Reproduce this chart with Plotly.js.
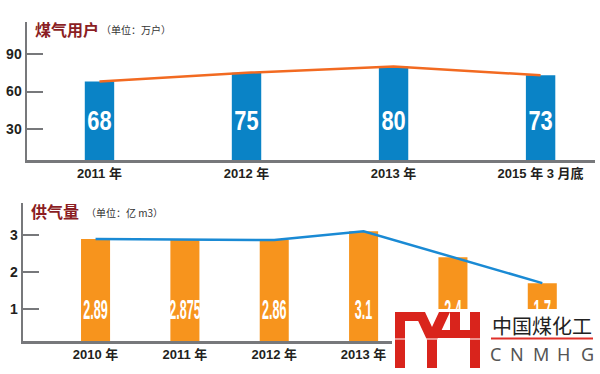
<!DOCTYPE html>
<html>
<head>
<meta charset="utf-8">
<script src="https://cdn.plot.ly/plotly-3.0.1.min.js"></script>
<style>html,body{margin:0;padding:0;background:#fff;}#chart{width:600px;height:374px;}</style>
</head>
<body>
<div id="chart"></div>
<script>
// ---- data ----
const userCats = ['2011 年', '2012 年', '2013 年', '2015 年 3 月底'];
const userVals = [68, 75, 80, 73];
const userLabels = ['68', '75', '80', '73'];
const userTicks = [30, 60, 90];

const gasCats = ['2010 年', '2011 年', '2012 年', '2013 年', '2014 年', '2015 年 1-3 月'];
const gasVals = [2.89, 2.875, 2.86, 3.1, 2.4, 1.7];
const gasLabels = ['2.89', '2.875', '2.86', '3.1', '2.4', '1.7'];
const gasTicks = [1, 2, 3];
const gasShownCats = gasCats.slice(0, 4);

const logoLetters = ['C', 'N', 'M', 'H', 'G'];

// ---- helpers: pixel -> paper ----
const W = 600, H = 374;
const px = x => x / W;
const py = y => 1 - y / H;

const axisGray = '#77787b';
const dark = '#231f20';
const labelFont = 'Liberation Sans, Arial, sans-serif';
const sans = 'Liberation Sans, Noto Sans CJK SC, sans-serif';
const cjk = 'Noto Sans CJK SC, sans-serif';

const traces = [
  {type: 'bar', x: userCats, y: userVals, xaxis: 'x', yaxis: 'y',
   marker: {color: '#0a83c6'}, width: 0.2, hoverinfo: 'skip'},
  {type: 'scatter', mode: 'lines', x: userCats, y: userVals, xaxis: 'x', yaxis: 'y',
   line: {color: '#f26a21', width: 2.5}, hoverinfo: 'skip'},
  {type: 'scatter', mode: 'text', x: userCats, y: userCats.map(() => 34.8), text: userLabels,
   xaxis: 'x', yaxis: 'y', textposition: 'middle center',
   textfont: {family: labelFont, size: 28, color: '#ffffff', weight: 'bold'}, hoverinfo: 'skip'},

  {type: 'bar', x: gasCats, y: gasVals, xaxis: 'x2', yaxis: 'y2',
   marker: {color: '#f7941d'}, width: 0.325, hoverinfo: 'skip'},
  {type: 'scatter', mode: 'lines', x: gasCats, y: gasVals, xaxis: 'x2', yaxis: 'y2',
   line: {color: '#1a8ad4', width: 2.5}, hoverinfo: 'skip'},
  {type: 'scatter', mode: 'text', x: gasCats, y: gasCats.map(() => 0.93), text: gasLabels,
   xaxis: 'x2', yaxis: 'y2', textposition: 'middle center',
   textfont: {family: labelFont, size: 28, color: '#ffffff', weight: 'bold'}, hoverinfo: 'skip'}
];

const yAxisCommon = {
  showgrid: false, zeroline: false, showline: true, linecolor: axisGray, linewidth: 2.5,
  ticks: 'inside', ticklen: 16, tickwidth: 2, tickcolor: axisGray,
  tickfont: {family: sans, size: 14, color: dark, weight: 'bold'}
};
const xAxisCommon = {
  type: 'category', showgrid: false, zeroline: false, showline: true, linecolor: axisGray, linewidth: 2.5,
  ticks: '', tickfont: {family: sans, size: 13, color: dark, weight: 'bold'}
};

const red = '#d9241c';
const shapes = [
  // white cover for watermark logo
  {type: 'rect', xref: 'paper', yref: 'paper', x0: px(392), x1: px(600), y0: py(374), y1: py(309),
   fillcolor: '#ffffff', line: {width: 0}, layer: 'above'},
  // red MH logo
  {type: 'rect', xref: 'paper', yref: 'paper', x0: px(395), x1: px(405), y0: py(368), y1: py(312),
   fillcolor: red, line: {width: 0}, layer: 'above'},
  {type: 'rect', xref: 'paper', yref: 'paper', x0: px(395), x1: px(424), y0: py(321), y1: py(312),
   fillcolor: red, line: {width: 0}, layer: 'above'},
  {type: 'path', xref: 'paper', yref: 'paper', layer: 'above', fillcolor: red, line: {width: 0},
   path: 'M' + px(414) + ',' + py(312) + ' L' + px(425) + ',' + py(312) + ' L' + px(432) + ',' + py(327) +
         ' L' + px(439) + ',' + py(312) + ' L' + px(450) + ',' + py(312) + ' L' + px(437) + ',' + py(340) +
         ' L' + px(427) + ',' + py(340) + ' Z'},
  {type: 'rect', xref: 'paper', yref: 'paper', x0: px(427), x1: px(437), y0: py(368), y1: py(336),
   fillcolor: red, line: {width: 0}, layer: 'above'},
  {type: 'rect', xref: 'paper', yref: 'paper', x0: px(450), x1: px(460), y0: py(338), y1: py(312),
   fillcolor: red, line: {width: 0}, layer: 'above'},
  {type: 'rect', xref: 'paper', yref: 'paper', x0: px(437), x1: px(480), y0: py(338), y1: py(330),
   fillcolor: red, line: {width: 0}, layer: 'above'},
  {type: 'rect', xref: 'paper', yref: 'paper', x0: px(470), x1: px(480), y0: py(368), y1: py(312),
   fillcolor: red, line: {width: 0}, layer: 'above'},
  {type: 'line', xref: 'paper', yref: 'paper', x0: px(394), x1: px(481), y0: py(339), y1: py(339),
   line: {color: '#ffffff', width: 1}, layer: 'above'},
  // red rule under Chinese name
  {type: 'line', xref: 'paper', yref: 'paper', x0: px(491), x1: px(593), y0: py(338.5), y1: py(338.5),
   line: {color: '#e0302a', width: 2}, layer: 'above'}
];

const letterX = [495, 516.7, 541, 563, 587.5];
const annotations = [
  {xref: 'paper', yref: 'paper', x: px(33), y: py(29), xanchor: 'left', yanchor: 'middle', showarrow: false,
   text: '煤气用户', font: {family: cjk, size: 16, color: '#8b1e24', weight: 'bold'}},
  {xref: 'paper', yref: 'paper', x: px(99), y: py(30), xanchor: 'left', yanchor: 'middle', showarrow: false,
   text: '（单位：万户）', font: {family: cjk, size: 10, color: '#333333'}},
  {xref: 'paper', yref: 'paper', x: px(29), y: py(211), xanchor: 'left', yanchor: 'middle', showarrow: false,
   text: '供气量', font: {family: cjk, size: 16, color: '#8b1e24', weight: 'bold'}},
  {xref: 'paper', yref: 'paper', x: px(84), y: py(212), xanchor: 'left', yanchor: 'middle', showarrow: false,
   text: '（单位：亿 m3）', font: {family: cjk, size: 10, color: '#333333'}},
  {xref: 'paper', yref: 'paper', x: px(542), y: py(325), xanchor: 'center', yanchor: 'middle', showarrow: false,
   text: '中国煤化工', font: {family: cjk, size: 20, color: '#222222'}}
].concat(logoLetters.map((c, i) => ({
  xref: 'paper', yref: 'paper', x: px(letterX[i]), y: py(353.5), xanchor: 'center', yanchor: 'middle',
  showarrow: false, text: c, font: {family: 'Noto Sans, sans-serif', size: 18, color: '#555555'}
})));

const layout = {
  width: W, height: H,
  margin: {l: 0, r: 0, t: 0, b: 0},
  paper_bgcolor: '#ffffff', plot_bgcolor: 'rgba(0,0,0,0)',
  showlegend: false, hovermode: false,
  xaxis: Object.assign({}, xAxisCommon, {domain: [px(27), px(595)], range: [-0.493, 3.37], anchor: 'y'}),
  yaxis: Object.assign({}, yAxisCommon, {domain: [py(160), py(22)], range: [5.2, 115.6],
    tickvals: userTicks, anchor: 'x'}),
  xaxis2: Object.assign({}, xAxisCommon, {domain: [px(23), px(595)], range: [-0.812, 5.59], anchor: 'y2',
    tickvals: gasShownCats, ticktext: gasShownCats}),
  yaxis2: Object.assign({}, yAxisCommon, {domain: [py(341), py(203)], range: [0.14, 3.86],
    tickvals: gasTicks, anchor: 'x2'}),
  shapes: shapes,
  annotations: annotations
};

// condense the in-bar value labels horizontally (the original uses a very narrow face)
function condense(gd) {
  const groups = [['.subplot.xy', 0.78], ['.subplot.x2y2', 0.45]];
  groups.forEach(([sel, s]) => {
    gd.querySelectorAll(sel + ' .textpoint text').forEach(t => {
      const x = parseFloat(t.getAttribute('x')) || 0;
      const prev = t.getAttribute('transform') || '';
      t.setAttribute('transform', prev + ' translate(' + x + ',0) scale(' + s + ',1) translate(' + (-x) + ',0)');
    });
  });
}

Plotly.newPlot('chart', traces, layout, {displayModeBar: false, staticPlot: true}).then(condense);
</script>
</body>
</html>
